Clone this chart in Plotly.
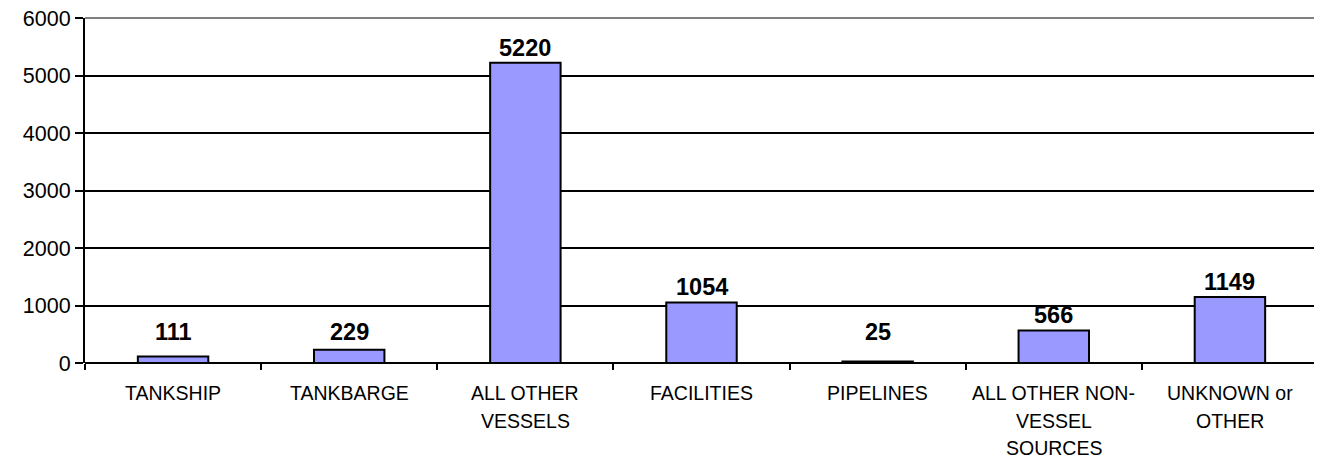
import plotly.graph_objects as go

categories = ["TANKSHIP", "TANKBARGE", "ALL OTHER VESSELS", "FACILITIES", "PIPELINES",
              "ALL OTHER NON-VESSEL SOURCES", "UNKNOWN or OTHER"]
label_lines = [["TANKSHIP"], ["TANKBARGE"], ["ALL OTHER", "VESSELS"], ["FACILITIES"],
               ["PIPELINES"], ["ALL OTHER NON-", "VESSEL", "SOURCES"], ["UNKNOWN or", "OTHER"]]
values = [111, 229, 5220, 1054, 25, 566, 1149]
y_ticks = [0, 1000, 2000, 3000, 4000, 5000, 6000]
Y_MAX = 6000

FONT = "Liberation Sans, Arial, sans-serif"

# page body has an 8px default margin, so the figure is offset by 8px
W, H = 1314, 452
M = dict(l=77, r=4, t=10, b=97)
plot_h = H - M["t"] - M["b"]

fig = go.Figure()
fig.add_trace(go.Bar(
    x=categories, y=values,
    marker=dict(color="#9999FF", line=dict(color="black", width=2)),
    hoverinfo="skip",
))

for c, v in zip(categories, values):
    bar_px = v / Y_MAX * plot_h
    shift = max(15, 31 - bar_px)
    fig.add_annotation(x=c, y=v, text=f"<b>{v}</b>", showarrow=False,
                       yanchor="middle", yshift=shift,
                       font=dict(family=FONT, size=23.5, color="black"))

for c, lines in zip(categories, label_lines):
    for i, line in enumerate(lines):
        fig.add_annotation(x=c, y=0, xref="x", yref="paper", text=line, showarrow=False,
                           yanchor="middle", yshift=-(30 + 27.5 * i),
                           font=dict(family=FONT, size=19.5, color="black"))

fig.update_layout(
    width=W, height=H, margin=M,
    paper_bgcolor="white", plot_bgcolor="white",
    bargap=0.6, showlegend=False,
    font=dict(family=FONT, color="black"),
)
fig.update_xaxes(
    type="category", tickson="boundaries", ticks="outside", ticklen=6, tickwidth=2,
    tickcolor="black", showline=False, showgrid=False, showticklabels=False,
    automargin=False,
)
fig.update_yaxes(
    range=[0, Y_MAX], tickvals=y_ticks, ticks="outside", ticklen=8, tickwidth=2,
    tickcolor="black", showline=True, linecolor="black", linewidth=2,
    showgrid=True, gridcolor="black", gridwidth=2,
    zeroline=True, zerolinecolor="black", zerolinewidth=2,
    tickfont=dict(family=FONT, size=21.5, color="black"), automargin=False,
    ticklabeloverflow="allow",
)
# gray top and right border of plot area
fig.add_shape(type="line", xref="paper", yref="paper", x0=0, x1=1, y0=1, y1=1,
              line=dict(color="#808080", width=2), layer="above")
fig.add_shape(type="line", xref="paper", yref="paper", x0=1, x1=1, y0=0, y1=1,
              line=dict(color="#808080", width=2), layer="above")

fig.write_html("out.html")
